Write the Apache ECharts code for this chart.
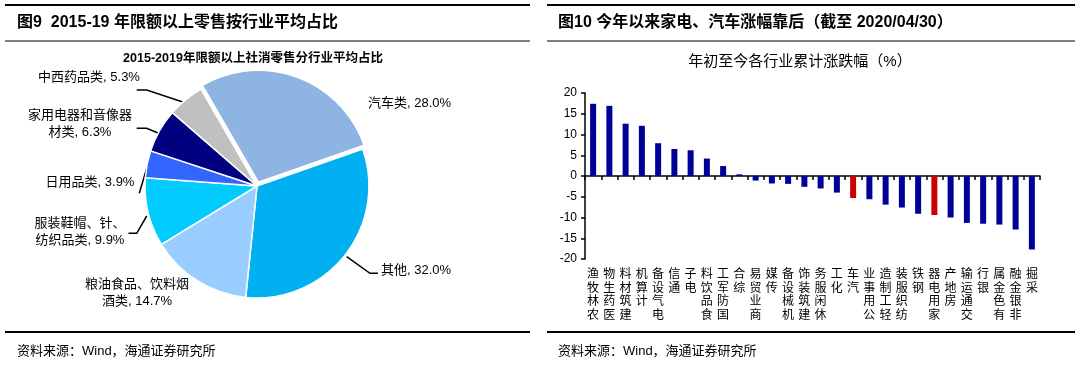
<!DOCTYPE html>
<html><head><meta charset="utf-8">
<script src="https://cdn.jsdelivr.net/npm/echarts@6/dist/echarts.min.js"></script>
<style>html,body{margin:0;padding:0;background:#fff}#c{width:1080px;height:366px}</style>
</head><body><div id="c"></div>
<script>
// ---------- data ----------
const pieNames = ['汽车类', '其他', '粮油食品、饮料烟酒类', '服装鞋帽、针、纺织品类', '日用品类', '家用电器和音像器材类', '中西药品类'];
const pieValues = [28.0, 32.0, 14.7, 9.9, 3.9, 6.3, 5.3];
const pieColors = ['#8DB4E2', '#00B0F0', '#99CCFF', '#00CCFF', '#3366FF', '#000080', '#C0C0C0'];
const explodedSlice = '汽车类';

const barCats = ['农林牧渔', '医药生物', '建筑材料', '计算机', '电气设备', '通信', '电子', '食品饮料', '国防军工', '综合',
  '商业贸易', '传媒', '机械设备', '建筑装饰', '休闲服务', '化工', '汽车', '公用事业', '轻工制造', '纺织服装',
  '钢铁', '家用电器', '房地产', '交通运输', '银行', '有色金属', '非银金融', '采掘'];
const barValues = [17.4, 16.9, 12.6, 12.1, 7.9, 6.5, 6.2, 4.2, 2.4, 0.4,
  -1.1, -1.8, -1.9, -2.6, -3.0, -4.0, -5.3, -5.6, -6.9, -7.6,
  -9.1, -9.4, -10.0, -11.3, -11.5, -11.7, -12.9, -17.7];
const highlighted = ['汽车', '家用电器'];
const yTicks = [-20, -15, -10, -5, 0, 5, 10, 15, 20];

// ---------- layout / style ----------
const FONT = "'Liberation Sans', Arial, 'Noto Sans CJK SC', sans-serif";
const PIE_CENTER = [257, 186], PIE_R = 112, PIE_START = 120, EXPLODE = 4;
const pieWrap = { 2: 8, 3: 7, 5: 8 }; // line break position in label
const pieLabelPos = [
  { x: 368, y: 103, align: 'left' },
  { x: 381, y: 270, align: 'left', line: [[346.7, 256.7], [370, 273.3], [378, 273.3]] },
  { x: 137, y: 293, align: 'center' },
  { x: 80, y: 231.5, align: 'center', line: [[146.7, 216], [136.7, 233.3], [128.5, 233.3]] },
  { x: 90, y: 182, align: 'center', line: [[146.7, 168.3], [139.3, 193.3]] },
  { x: 80, y: 124, align: 'center', line: [[158, 133], [146.7, 128.3], [136.7, 128.3]] },
  { x: 89, y: 77, align: 'center', line: [[185, 102.7], [146.7, 90], [136.7, 90]] }
];

// explode offset direction from the slice's mid angle
const total = pieValues.reduce((a, b) => a + b, 0);
const exIdx = pieNames.indexOf(explodedSlice);
let before = 0; for (let i = 0; i < exIdx; i++) before += pieValues[i];
const midDeg = PIE_START - (before + pieValues[exIdx] / 2) / total * 360;
const exCenter = [PIE_CENTER[0] + EXPLODE * Math.cos(midDeg * Math.PI / 180),
                  PIE_CENTER[1] - EXPLODE * Math.sin(midDeg * Math.PI / 180)];

function txt(text, x, y, size, weight, align, color) {
  return { type: 'text', x: x, y: y, silent: true,
    style: { text: text, fontSize: size, fontWeight: weight || 'normal', fontFamily: FONT,
      fill: color || '#000', align: align || 'left', verticalAlign: 'middle',
      textAlign: align || 'left', textVerticalAlign: 'middle' } };
}
function hline(x1, x2, y, color, w) {
  return { type: 'line', silent: true, shape: { x1: x1, y1: y, x2: x2, y2: y }, style: { stroke: color, lineWidth: w } };
}

const chart = echarts.init(document.getElementById('c'), null, { renderer: 'canvas' });
chart.setOption({
  animation: false,
  backgroundColor: '#fff',
  graphic: [
    hline(5, 530, 5, '#000', 2), hline(5, 530, 41, '#808080', 2), hline(5, 530, 332, '#000', 2),
    hline(547, 1075, 5, '#000', 2), hline(547, 1075, 41, '#808080', 2), hline(547, 1075, 332, '#000', 2),
    txt('图9  2015-19 年限额以上零售按行业平均占比', 17, 23, 16, 'bold'),
    txt('图10 今年以来家电、汽车涨幅靠后（截至 2020/04/30）', 558, 23, 16, 'bold'),
    txt('2015-2019年限额以上社消零售分行业平均占比', 253, 59, 12.5, 'bold', 'center'),
    txt('年初至今各行业累计涨跌幅（%）', 800, 62, 15, 'normal', 'center'),
    txt('资料来源：Wind，海通证券研究所', 17, 351, 13, 'normal'),
    txt('资料来源：Wind，海通证券研究所', 558, 351, 13, 'normal')
  ],
  grid: { left: 585, right: 40, top: 93, bottom: 107, containLabel: false },
  xAxis: [
    { type: 'category', data: barCats, boundaryGap: true,
      axisLine: { show: true, onZero: true, lineStyle: { color: '#000', width: 1.5 } },
      axisTick: { show: true, interval: 0, length: 4, inside: false, lineStyle: { color: '#000', width: 1.5 } },
      axisLabel: { show: false }, splitLine: { show: false } },
    { type: 'category', data: barCats, boundaryGap: true, position: 'bottom',
      axisLine: { show: false, onZero: false }, axisTick: { show: false }, splitLine: { show: false },
      axisLabel: { show: true, interval: 0, margin: 9, color: '#000', fontSize: 12, fontFamily: FONT, lineHeight: 13.5,
        verticalAlign: 'top',
        formatter: v => v.split('').reverse().join('\n') } }
  ],
  yAxis: { type: 'value', min: yTicks[0], max: yTicks[yTicks.length - 1], interval: 5,
    axisLine: { show: true, lineStyle: { color: '#000', width: 1.5 } },
    axisTick: { show: true, length: 4, lineStyle: { color: '#000', width: 1.5 } },
    axisLabel: { color: '#000', fontSize: 12, fontFamily: FONT, margin: 8 },
    splitLine: { show: false } },
  series: [
    { type: 'bar', xAxisIndex: 0, yAxisIndex: 0, barWidth: 6,
      data: barValues.map((v, i) => ({ value: v,
        itemStyle: { color: highlighted.includes(barCats[i]) ? '#CC0000' : '#000099' } })),
      emphasis: { disabled: true } },
    // main pie (exploded slice left blank here, it carries the labels)
    { type: 'pie', center: PIE_CENTER, radius: PIE_R, startAngle: PIE_START, clockwise: true,
      avoidLabelOverlap: false, selectedMode: false, z: 2,
      emphasis: { disabled: true },
      itemStyle: { borderColor: '#fff', borderWidth: 1.5 },
      label: { show: true, position: 'outside', color: '#000', fontSize: 13, fontFamily: FONT, lineHeight: 17,
        formatter: p => {
          const n = p.name, b = pieWrap[p.dataIndex];
          const name = b ? n.slice(0, b) + '\n' + n.slice(b) : n;
          return name + ', ' + p.value.toFixed(1) + '%';
        } },
      labelLine: { show: true, smooth: false, length: 10, length2: 10, lineStyle: { color: '#000', width: 1.5 } },
      labelLayout: params => {
        const L = pieLabelPos[params.dataIndex];
        const o = { x: L.x, y: L.y, align: L.align, verticalAlign: 'middle', hideOverlap: false };
        if (L.line) o.labelLinePoints = L.line;
        return o;
      },
      data: pieNames.map((n, i) => ({ name: n, value: pieValues[i],
        itemStyle: i === exIdx ? { color: 'rgba(0,0,0,0)', borderWidth: 0 } : { color: pieColors[i] },
        labelLine: { show: !!pieLabelPos[i].line } }))
    },
    // exploded slice drawn with the same angles, center pushed out along its mid angle
    { type: 'pie', center: exCenter, radius: PIE_R, startAngle: PIE_START, clockwise: true,
      selectedMode: false, silent: true, z: 3, label: { show: false }, labelLine: { show: false },
      emphasis: { disabled: true },
      data: pieNames.map((n, i) => ({ name: n, value: pieValues[i],
        itemStyle: i === exIdx ? { color: pieColors[i], borderColor: '#fff', borderWidth: 1.5 }
                               : { color: 'rgba(0,0,0,0)', borderWidth: 0 } }))
    }
  ]
});
</script></body></html>
